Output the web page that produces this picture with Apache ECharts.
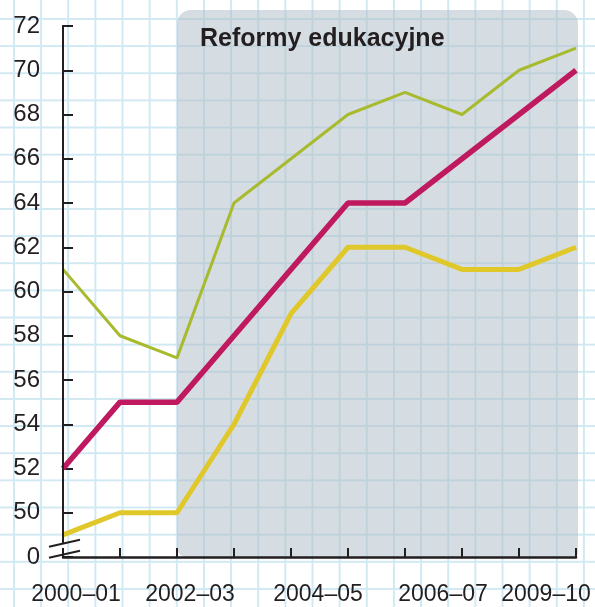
<!DOCTYPE html>
<html>
<head>
<meta charset="utf-8">
<script src="https://cdn.jsdelivr.net/npm/echarts@6/dist/echarts.min.js"></script>
<style>
  html, body { margin: 0; padding: 0; }
  #main {
    width: 595px;
    height: 607px;
    background-color: #ffffff;
    background-image:
      linear-gradient(to right, #d0e9f3 2px, transparent 2px),
      linear-gradient(to bottom, #d0e9f3 2px, transparent 2px);
    background-size: 27.15px 27.15px;
    background-position: 13px 18px;
  }
</style>
</head>
<body>
<div id="main"></div>
<script>
// dane
var categories = ['2000–01', '2001–02', '2002–03', '2003–04', '2004–05', '2005–06', '2006–07', '2007–08', '2008–09', '2009–10'];
var greenValues = [61, 58, 57, 64, 66, 68, 69, 68, 70, 71];
var magentaValues = [52, 55, 55, 58, 61, 64, 64, 66, 68, 70];
var yellowValues = [49, 50, 50, 54, 59, 62, 62, 61, 61, 62];
var shownLabels = ['2000–01', '2002–03', '2004–05', '2006–07', '2009–10'];
var yMin = 48, yMax = 72, yStep = 2;
var reformStart = '2002–03';
var reformTitle = 'Reformy edukacyjne';

var axisColor = '#231f20';
var font = '"Liberation Sans", Arial, sans-serif';

// przesuniecia etykiet osi x (jak na oryginale)
var labelRich = {
  s0: { padding: [0, 0, 0, 26] },
  s2: { padding: [0, 0, 0, 26] },
  s4: { padding: [0, 0, 0, 54] },
  s6: { padding: [0, 0, 0, 76] },
  s9: { padding: [0, 60, 0, 0] }
};

var chart = echarts.init(document.getElementById('main'));

chart.setOption({
  animation: false,
  textStyle: { fontFamily: font },
  title: {
    text: reformTitle,
    left: 195,
    top: 22,
    textStyle: { fontSize: 25, fontWeight: 'bold', color: axisColor, fontFamily: font }
  },
  grid: { left: 63, right: 19, top: 26, bottom: 50 },
  xAxis: {
    type: 'category',
    data: categories,
    boundaryGap: false,
    axisLine: { lineStyle: { color: axisColor, width: 2.5 } },
    axisTick: { inside: true, length: 9, interval: 0, lineStyle: { color: axisColor, width: 2 } },
    axisLabel: {
      interval: 0,
      margin: 26,
      fontSize: 23,
      color: axisColor,
      formatter: function (v, i) {
        if (shownLabels.indexOf(v) < 0) return '';
        return '{s' + i + '|' + v + '}';
      },
      rich: labelRich
    },
    splitLine: { show: false }
  },
  yAxis: {
    type: 'value',
    min: yMin,
    max: yMax,
    interval: yStep,
    axisLine: { show: false },
    axisTick: { show: true, inside: true, length: 10, lineStyle: { color: axisColor, width: 2 } },
    axisLabel: {
      margin: 23,
      fontSize: 24,
      color: axisColor,
      formatter: function (v) { return v === yMin ? '0' : String(v); }
    },
    splitLine: { show: false }
  },
  series: [
    {
      type: 'line', data: greenValues, symbol: 'none', z: 3,
      lineStyle: { color: '#a8ba2e', width: 3 }
    },
    {
      type: 'line', data: magentaValues, symbol: 'none', z: 4,
      lineStyle: { color: '#bf1a60', width: 5.5 }
    },
    {
      type: 'line', data: yellowValues, symbol: 'none', z: 4,
      lineStyle: { color: '#e0c82a', width: 5 }
    }
  ]
});

// obszar reform, os y z przerwa
var px = function (c, v) {
  return chart.convertToPixel({ xAxisIndex: 0, yAxisIndex: 0 }, [c, v]);
};
var boxTL = px(reformStart, yMax);
var boxBR = px(categories[categories.length - 1], yMin);
var axTop = px(categories[0], yMax);
var axBreakA = px(categories[0], 48.6);
var axBreakB = px(categories[0], 48.1);
var axBottom = px(categories[0], yMin);

chart.setOption({
  graphic: [
    {
      type: 'rect', z: -10, silent: true,
      shape: {
        x: boxTL[0], y: boxTL[1] - 16,
        width: boxBR[0] - boxTL[0] + 2, height: boxBR[1] - boxTL[1] + 16,
        r: [14, 14, 5, 9]
      },
      style: { fill: 'rgba(176,189,200,0.52)' }
    },
    {
      type: 'line', z: 5, silent: true,
      shape: { x1: axTop[0], y1: axTop[1] - 1, x2: axBreakA[0], y2: axBreakA[1] },
      style: { stroke: axisColor, lineWidth: 2 }
    },
    {
      type: 'line', z: 5, silent: true,
      shape: { x1: axBreakB[0], y1: axBreakB[1], x2: axBottom[0], y2: axBottom[1] },
      style: { stroke: axisColor, lineWidth: 2 }
    },
    {
      type: 'line', z: 5, silent: true,
      shape: { x1: axBreakA[0] - 14, y1: axBreakA[1] + 3, x2: axBreakA[0] + 17, y2: axBreakA[1] - 4 },
      style: { stroke: axisColor, lineWidth: 2 }
    },
    {
      type: 'line', z: 5, silent: true,
      shape: { x1: axBreakB[0] - 14, y1: axBreakB[1] + 3, x2: axBreakB[0] + 17, y2: axBreakB[1] - 4 },
      style: { stroke: axisColor, lineWidth: 2 }
    }
  ]
});
</script>
</body>
</html>
